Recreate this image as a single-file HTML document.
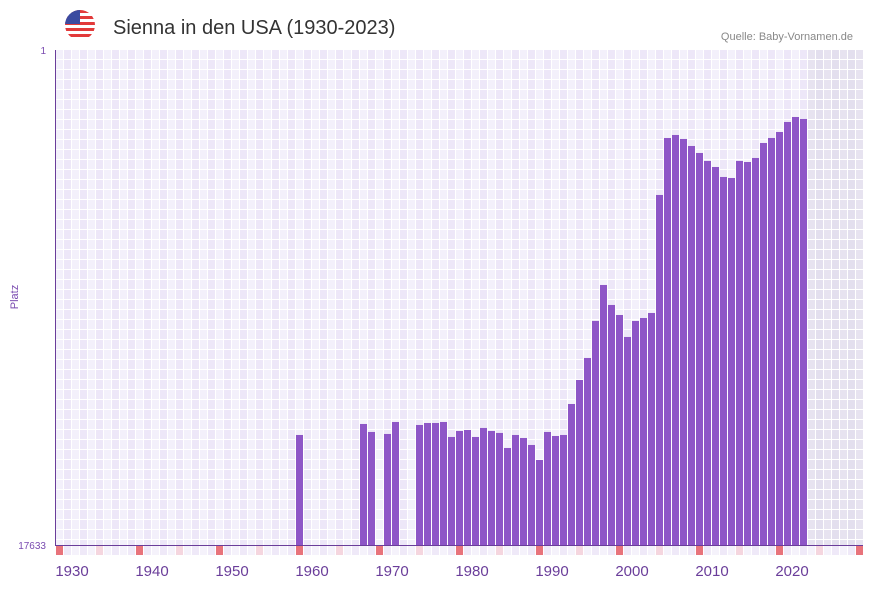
<!DOCTYPE html>
<html><head><meta charset="utf-8"><style>
body{margin:0;background:#fff;width:873px;height:587px;overflow:hidden;font-family:"Liberation Sans",sans-serif}
</style></head><body>
<svg id="c" width="873" height="587">
<g>
<clipPath id="fc"><circle cx="80" cy="25" r="15"/></clipPath>
<g clip-path="url(#fc)">
<rect x="65" y="10" width="30" height="30" fill="#fff"/>
<rect x="65" y="10" width="30" height="3" fill="#e23a3a"/><rect x="65" y="16" width="30" height="3" fill="#e23a3a"/><rect x="65" y="22" width="30" height="3" fill="#e23a3a"/><rect x="65" y="28" width="30" height="3" fill="#e23a3a"/><rect x="65" y="34" width="30" height="3" fill="#e23a3a"/>
<rect x="65" y="10" width="15" height="14" fill="#3b4aa0"/>
</g></g>
<text x="113" y="34" font-size="20" fill="#333">Sienna in den USA (1930-2023)</text>
<text x="853" y="40" font-size="11" fill="#888" text-anchor="end">Quelle: Baby-Vornamen.de</text>
<text x="18" y="297" font-size="11" fill="#7a4bb0" text-anchor="middle" transform="rotate(-90 18 297)">Platz</text>
<text x="46" y="54" font-size="10" fill="#7a4bb0" text-anchor="end">1</text>
<text x="46" y="549" font-size="10" fill="#7a4bb0" text-anchor="end">17633</text>
<g id="grid"></g><g id="bars"></g><g id="marks"></g><g id="xl"></g>
<line x1="55.5" y1="50" x2="55.5" y2="546" stroke="#6a3d9a" stroke-width="1"/>
<line x1="55" y1="545.5" x2="863" y2="545.5" stroke="#6a3d9a" stroke-width="1"/>
</svg>
<script>
const years=[1958,1966,1967,1969,1970,1973,1974,1975,1976,1977,1978,1979,1980,1981,1982,1983,1984,1985,1986,1987,1988,1989,1990,1991,1992,1993,1994,1995,1996,1997,1998,1999,2000,2001,2002,2003,2004,2005,2006,2007,2008,2009,2010,2011,2012,2013,2014,2015,2016,2017,2018,2019,2020,2021];
const ranks=[13714,13322,13607,13678,13251,13358,13287,13287,13251,13785,13571,13536,13785,13464,13571,13642,14177,13714,13821,14070,14604,13607,13750,13714,12610,11755,10971,9653,8371,9083,9440,10223,9653,9547,9368,5165,3135,3028,3170,3420,3669,3954,4168,4524,4560,3954,3990,3847,3313,3135,2921,2565,2387,2458];
const xTicks=[1930,1940,1950,1960,1970,1980,1990,2000,2010,2020];
const minRank=1,maxRank=17633,firstYear=1928,lastYear=2028,dataEnd=2021;
const NS="http://www.w3.org/2000/svg";
const X0=56,CW=8,Y0=50,Y1=545;
const xs=y=>X0+(y-firstYear)*CW;
const ys=r=>Y0+(r-minRank)/(maxRank-minRank)*(Y1-Y0);
function mk(t,a,p){const e=document.createElementNS(NS,t);for(const k in a)e.setAttribute(k,a[k]);p.appendChild(e);return e;}
const g=document.getElementById('grid');
for(let y=firstYear;y<=lastYear;y++){
  const shaded=y>dataEnd;
  const fill=shaded?((y%2)?'#e3dfee':'#e7e3f0'):((y%2)?'#ede7f8':'#f3f0fb');
  const c=mk('rect',{x:xs(y),y:Y0,width:CW,height:Y1-Y0,fill:fill},g);
  
  
  mk('line',{x1:xs(y)+7.5,y1:Y0,x2:xs(y)+7.5,y2:Y1,stroke:'#fff','stroke-width':1},g);
}
for(let yy=Y0+9.5;yy<Y1;yy+=10){mk('line',{x1:X0,y1:yy,x2:864,y2:yy,stroke:'#fff','stroke-width':1},g);}
const b=document.getElementById('bars');
years.forEach((yr,i)=>{
  const top=ys(ranks[i]);
  const r=mk('rect',{x:xs(yr),y:top,width:7,height:Y1-top,fill:'#8e56c7'},b);
  
  
});
const m=document.getElementById('marks');
for(let y=firstYear;y<=lastYear;y++){
  const d=y%10;
  const fill=d===8?'#e8737b':d===3?'#f5d6df':(y%2?'#efe9f8':'#f5f2fb');
  const r=mk('rect',{x:xs(y),y:546,width:7,height:9,fill:fill},m);
  
  
}
const xl=document.getElementById('xl');
xTicks.forEach(t=>{
  const e=mk('text',{x:xs(t),y:576,'font-size':15,fill:'#6a3d9a','text-anchor':'middle'},xl);
  e.textContent=t;
  
  
});
</script>
</body></html>
